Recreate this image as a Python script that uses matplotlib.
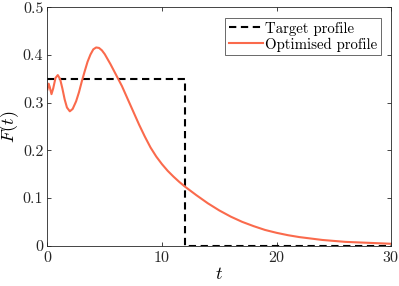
import numpy as np
import matplotlib
matplotlib.use("Agg")
import matplotlib.pyplot as plt

plt.rcParams['font.family'] = 'serif'
plt.rcParams['font.serif'] = ['cmr10']
plt.rcParams['mathtext.fontset'] = 'cm'
plt.rcParams['axes.formatter.use_mathtext'] = True

# target step profile
target_t = [0, 12, 12, 30]
target_F = [0.35, 0.35, 0.0, 0.0]

# optimised profile
opt_t = [0, 0.1, 0.2, 0.35, 0.5, 0.7, 0.9, 1.1, 1.3, 1.5, 1.7, 1.95,
         2.2, 2.5, 2.75, 3.0, 3.25, 3.5, 3.75, 4.0, 4.25, 4.5, 4.75, 5.0,
         5.5, 6.0, 6.5, 7.0, 7.5, 8.0, 8.5, 9.0, 9.5, 10.0, 10.5, 11.0, 11.5,
         12, 12.5, 13, 14, 15, 16, 17, 18, 19, 20, 21, 22, 23, 24, 25, 26,
         27, 28, 29, 30]
opt_F = [0.328, 0.340, 0.333, 0.318, 0.330, 0.352, 0.358, 0.350, 0.330,
         0.307, 0.290, 0.282,
         0.287, 0.303, 0.322, 0.345, 0.366, 0.386, 0.401, 0.412, 0.416, 0.415,
         0.410, 0.402,
         0.381, 0.358, 0.335, 0.308, 0.281, 0.254, 0.229, 0.206, 0.187, 0.171,
         0.157, 0.145, 0.134,
         0.124, 0.115, 0.106, 0.089, 0.074, 0.061, 0.050, 0.041, 0.033, 0.027,
         0.022, 0.018, 0.015, 0.012, 0.010, 0.008, 0.007, 0.006, 0.005, 0.004]

fig = plt.figure(figsize=(3.99, 2.86), dpi=100)
ax = fig.add_axes([0.119, 0.141, 0.861, 0.833])

ax.plot(target_t, target_F, '--', color='black', lw=1.5, dashes=(3.5, 2.2),
        label='Target profile')
ax.plot(opt_t, opt_F, '-', color='#FA6A4C', lw=1.5, label='Optimised profile')

ax.set_xlim(0, 30)
ax.set_ylim(0, 0.5)
ax.set_xticks([0, 10, 20, 30])
ax.set_yticks([0, 0.1, 0.2, 0.3, 0.4, 0.5])
ax.set_yticklabels(['0', '0.1', '0.2', '0.3', '0.4', '0.5'])
ax.tick_params(direction='in', length=3, width=0.6, top=True, right=True,
               labelsize=11.5, colors='#262626', pad=3)
for s in ax.spines.values():
    s.set_linewidth(0.6)
    s.set_color('#262626')

ax.set_xlabel('$t$', fontsize=13, labelpad=1)
ax.set_ylabel('$F(t)$', fontsize=13, labelpad=1)

leg = ax.legend(loc='upper right', fontsize=10.7, frameon=True, fancybox=False,
                handlelength=2.3, handletextpad=0.1, borderpad=0.25,
                labelspacing=0.12, borderaxespad=0.7)
leg.get_frame().set_edgecolor('#262626')
leg.get_frame().set_linewidth(0.6)

fig.savefig('out.png', dpi=100)
